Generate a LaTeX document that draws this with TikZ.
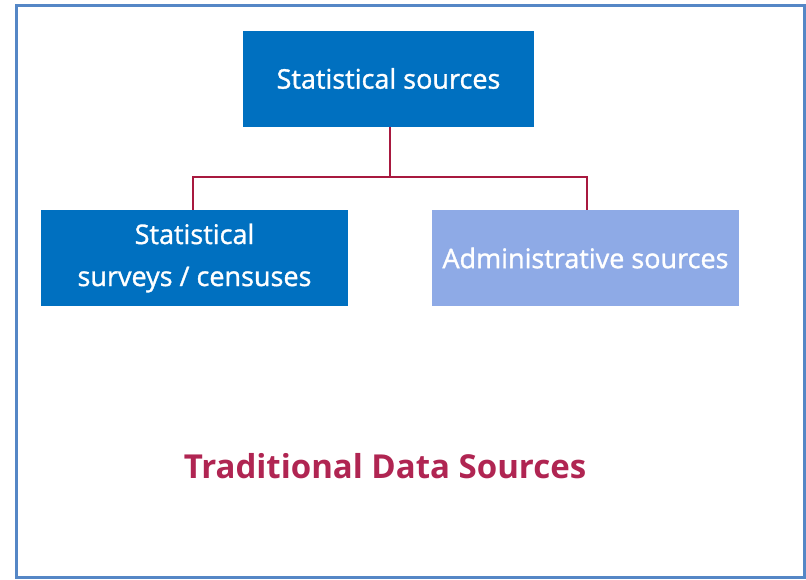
\documentclass[tikz,border=0pt]{standalone}
\usepackage{fontspec}
\setmainfont{Open Sans}
\newfontfamily\boxfont[FakeBold=1.2]{Open Sans}
\definecolor{frameblue}{HTML}{5587C6}
\definecolor{boxblue}{HTML}{0070C0}
\definecolor{lightblue}{HTML}{8EAAE6}
\definecolor{linered}{HTML}{A8193F}
\definecolor{titlered}{HTML}{B02552}
\tikzset{
  box/.style={fill=boxblue, text=white, minimum width=#1, minimum height=96pt, inner sep=0pt, align=center, font=\boxfont\fontsize{27}{42}\selectfont},
  conn/.style={draw=linered, line width=1.5pt},
}
\begin{document}
\begin{tikzpicture}[x=1pt,y=-1pt]
\useasboundingbox (0,0) rectangle (806,579);
\draw[frameblue, line width=3pt] (16.5,5.5) rectangle (804.5,577.5);
\node[box=291pt] (top) at (388.5,78.5) {Statistical sources};
\node[box=307pt] (left) at (194.5,258) {Statistical\\surveys / censuses};
\node[box=307pt, fill=lightblue] (right) at (585.5,258) {Administrative sources};
\coordinate (j) at (390,177);
\draw[linered, line width=2.5pt] (top.south -| j) -- (j);
\draw[conn] (left.north -| 193,0) |- (j) -| (right.north -| 587,0);
\node[text=titlered, font=\bfseries\fontsize{33}{40}\selectfont] (title) at (385,466) {Traditional Data Sources};
\end{tikzpicture}
\end{document}
